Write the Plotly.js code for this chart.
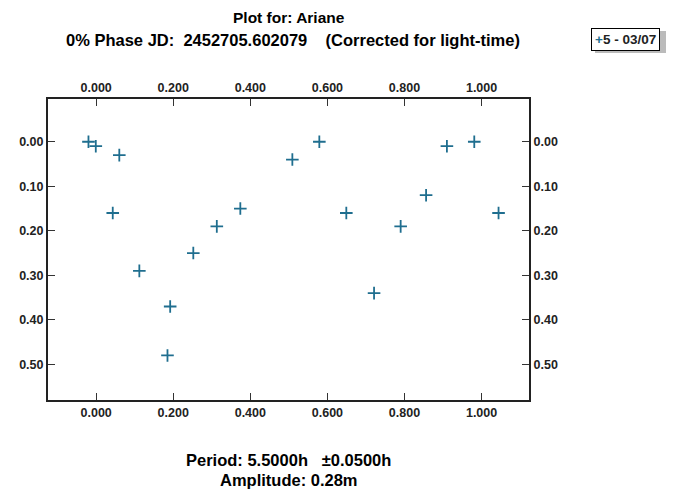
<!DOCTYPE html>
<html>
<head>
<meta charset="utf-8">
<script src="https://cdn.plot.ly/plotly-3.0.1.min.js"></script>
<style>html,body{margin:0;padding:0;background:#fff;}#chart{width:673px;height:490px;}</style>
</head>
<body>
<div id="chart"></div>
<script>
const phase = [-0.020, -0.001, 0.060, 0.043, 0.112, 0.192, 0.185, 0.252, 0.313, 0.374, 0.509, 0.579, 0.649, 0.721, 0.790, 0.856, 0.910, 0.981, 1.044];
const mag   = [0.00, 0.01, 0.03, 0.16, 0.29, 0.37, 0.48, 0.25, 0.19, 0.15, 0.04, 0.00, 0.16, 0.34, 0.19, 0.12, 0.01, 0.00, 0.16];
const seriesName = "5 - 03/07";
const xTicks = [0, 0.2, 0.4, 0.6, 0.8, 1.0];
const xTickText = ["0.000", "0.200", "0.400", "0.600", "0.800", "1.000"];
const yTicks = [0, 0.1, 0.2, 0.3, 0.4, 0.5];
const yTickText = ["0.00", "0.10", "0.20", "0.30", "0.40", "0.50"];
const titleLine1 = "Plot for: Ariane";
const titleLine2 = "0% Phase JD:&nbsp; 2452705.602079 &nbsp;&nbsp;&nbsp;(Corrected for light-time)";
const footLine1 = "Period: 5.5000h &nbsp;&nbsp;±0.0500h";
const footLine2 = "Amplitude: 0.28m";

const fam = "Liberation Sans, Arial, sans-serif";
const tickFont = {family: fam, size: 12.5, color: "#222", weight: "bold"};
const col = "#1f6e8f";

const traces = [
  {x: phase, y: mag, type: "scatter", mode: "markers", name: seriesName, showlegend: false,
   marker: {symbol: "cross-thin-open", size: 9, color: col, line: {color: col, width: 1.8}},
   xaxis: "x", yaxis: "y"},
  {x: phase, y: mag, type: "scatter", mode: "markers", showlegend: false, hoverinfo: "skip",
   marker: {opacity: 0}, xaxis: "x2", yaxis: "y2"}
];

const xRange = [-0.125, 1.123];
const yRange = [0.58, -0.096];
const axCommon = {showgrid: false, zeroline: false, ticks: "inside", ticklen: 7, tickwidth: 1, tickcolor: "#333",
  tickfont: tickFont, showline: true, linecolor: "#222", linewidth: 2};

const titleFont = {family: fam, size: 15.5, color: "#000", weight: "bold"};
const bigFont = {family: fam, size: 16.5, color: "#000", weight: "bold"};

const layout = {
  width: 673, height: 490,
  margin: {l: 48, r: 144, t: 99, b: 90, autoexpand: false},
  paper_bgcolor: "#fff", plot_bgcolor: "#fff",
  font: {family: fam, size: 12, color: "#000"},
  showlegend: false,
  xaxis: Object.assign({}, axCommon, {range: xRange, tickvals: xTicks, ticktext: xTickText, side: "bottom"}),
  xaxis2: Object.assign({}, axCommon, {range: xRange, tickvals: xTicks, ticktext: xTickText, side: "top", overlaying: "x", anchor: "y"}),
  yaxis: Object.assign({}, axCommon, {range: yRange, tickvals: yTicks, ticktext: yTickText, side: "left"}),
  yaxis2: Object.assign({}, axCommon, {range: yRange, tickvals: yTicks, ticktext: yTickText, side: "right", overlaying: "y", anchor: "x"}),
  shapes: [
    {type: "rect", xref: "paper", yref: "paper", x0: (595-48)/481, x1: (666-48)/481, y0: (400-53)/301, y1: (400-31)/301,
     fillcolor: "#bbb", line: {width: 0}, layer: "below"}
  ],
  annotations: [
    {text: titleLine1, xref: "paper", yref: "paper", x: 0.5, y: (400-17)/301, xanchor: "center", yanchor: "middle", showarrow: false, font: titleFont},
    {text: titleLine2, xref: "paper", yref: "paper", x: 0.51, y: (400-40)/301, xanchor: "center", yanchor: "middle", showarrow: false, font: bigFont},
    {text: footLine1, xref: "paper", yref: "paper", x: 0.5, y: (400-460)/301, xanchor: "center", yanchor: "middle", showarrow: false, font: bigFont},
    {text: footLine2, xref: "paper", yref: "paper", x: 0.5, y: (400-480)/301, xanchor: "center", yanchor: "middle", showarrow: false, font: bigFont},
    {text: "<span style='color:" + col + "'>+</span>" + seriesName, xref: "paper", yref: "paper",
     x: (591-48)/481, y: (400-39)/301, xanchor: "left", yanchor: "middle", showarrow: false,
     bgcolor: "#fff", bordercolor: "#000", borderwidth: 1, borderpad: 3,
     font: {family: fam, size: 13.5, color: "#222", weight: "bold"}}
  ]
};

Plotly.newPlot("chart", traces, layout, {displayModeBar: false, staticPlot: true});
</script>
</body>
</html>
